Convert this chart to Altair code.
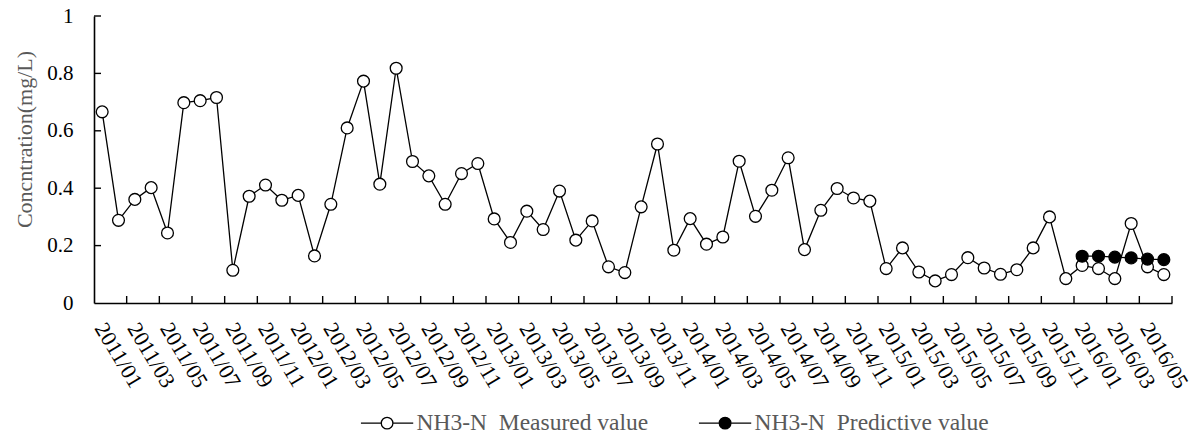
import altair as alt
import pandas as pd

# ---- data ----
tick_labels = [
    "2011/01", "2011/03", "2011/05", "2011/07", "2011/09", "2011/11",
    "2012/01", "2012/03", "2012/05", "2012/07", "2012/09", "2012/11",
    "2013/01", "2013/03", "2013/05", "2013/07", "2013/09", "2013/11",
    "2014/01", "2014/03", "2014/05", "2014/07", "2014/09", "2014/11",
    "2015/01", "2015/03", "2015/05", "2015/07", "2015/09", "2015/11",
    "2016/01", "2016/03", "2016/05",
]

measured = [
    0.666, 0.288, 0.361, 0.402, 0.244, 0.698, 0.705, 0.716, 0.114, 0.372,
    0.411, 0.358, 0.375, 0.164, 0.344, 0.610, 0.773, 0.414, 0.818, 0.493,
    0.443, 0.344, 0.451, 0.486, 0.293, 0.211, 0.320, 0.256, 0.390, 0.219,
    0.286, 0.126, 0.106, 0.335, 0.554, 0.184, 0.294, 0.205, 0.230, 0.494,
    0.302, 0.393, 0.506, 0.186, 0.323, 0.399, 0.366, 0.355, 0.120, 0.192,
    0.108, 0.077, 0.099, 0.158, 0.122, 0.100, 0.116, 0.192, 0.300, 0.085,
    0.131, 0.120, 0.085, 0.277, 0.126, 0.099,
]

predicted = [0.163, 0.163, 0.160, 0.157, 0.153, 0.151]
pred_start = 60  # 2016/01

y_ticks = [0, 0.2, 0.4, 0.6, 0.8, 1.0]

MEAS = "NH3-N\u00a0 Measured value"
PRED = "NH3-N\u00a0 Predictive value"

# ---- tables ----
n = len(measured)
df_meas = pd.DataFrame({"i": list(range(n)), "v": measured, "series": MEAS})
df_pred = pd.DataFrame({"i": list(range(pred_start, pred_start + len(predicted))),
                        "v": predicted, "series": PRED})
# tick-mark positions: category boundaries every two months
df_xt = pd.DataFrame({"i": [k + 1.5 for k in range(0, n, 2)]})
df_yt = pd.DataFrame({"v": y_ticks[1:]})

W, H = 1078, 287
FONT = "Liberation Serif"

xscale = alt.Scale(domain=[-0.5, n - 0.5], nice=False, zero=False)
yscale = alt.Scale(domain=[0, 1], nice=False)

label_js = "[" + ",".join("'%s'" % s for s in tick_labels) + "][datum.value / 2]"

x_axis = alt.Axis(
    values=list(range(0, n, 2)), labelExpr=label_js, ticks=False, grid=False,
    domainColor="black", domainWidth=1.6, labelAngle=59, labelAlign="left",
    labelBaseline="top", labelPadding=16, labelOffset=6, labelFont=FONT,
    labelFontSize=22, labelColor="black", labelOverlap=False, labelFlush=False,
    labelBound=False, title=None,
)
y_axis = alt.Axis(
    values=y_ticks, format="~g", ticks=False, grid=False, domainColor="black",
    domainWidth=1.6, labelPadding=21, labelFont=FONT, labelFontSize=21,
    labelColor="black", title="Concntration(mg/L)", titleColor="#595959",
    titleFont=FONT, titleFontSize=22, titleFontWeight="normal", titleX=-70,
    titleY=123, titleAngle=-90, titleAlign="center", titleBaseline="middle",
)

X = alt.X("i:Q", scale=xscale, axis=x_axis)
Y = alt.Y("v:Q", scale=yscale, axis=y_axis)

sym_path = "M-1,0L2.5,0M4.5,0L8,0M4.5,0A1,1,0,1,1,2.5,0A1,1,0,1,1,4.5,0Z"

legend = alt.Legend(
    orient="none", legendX=261, legendY=395, direction="horizontal", columns=2,
    columnPadding=44, title=None, symbolType=sym_path, symbolSize=135,
    symbolStrokeColor="black", symbolStrokeWidth=1.3, labelFont=FONT,
    labelFontSize=23.5, labelColor="#595959", labelOffset=38, labelLimit=400,
    padding=0, symbolOffset=0,
)
fill_scale = alt.Scale(domain=[MEAS, PRED], range=["white", "black"])
FILL = alt.Fill("series:N", scale=fill_scale, legend=legend)

meas_line = alt.Chart(df_meas).mark_line(color="black", strokeWidth=1.3).encode(x=X, y=Y)
meas_pts = alt.Chart(df_meas).mark_point(
    shape="circle", filled=True, size=140, stroke="black", strokeWidth=1.3, opacity=1
).encode(x=X, y=Y, fill=FILL)
pred_line = alt.Chart(df_pred).mark_line(color="black", strokeWidth=1.3).encode(x=X, y=Y)
pred_pts = alt.Chart(df_pred).mark_point(
    shape="circle", filled=True, size=140, stroke="black", strokeWidth=1.3, opacity=1
).encode(x=X, y=Y, fill=FILL)
xticks = alt.Chart(df_xt).mark_rule(color="black", strokeWidth=1.4).encode(
    x=X, y=alt.value(H), y2=alt.value(H - 7),
)
yticks = alt.Chart(df_yt).mark_rule(color="black", strokeWidth=1.4).encode(
    y=Y, x=alt.value(0), x2=alt.value(7),
)

chart = alt.layer(meas_line, meas_pts, pred_line, pred_pts, xticks, yticks).properties(
    width=W, height=H,
    autosize=alt.AutoSizeParams(type="none"),
    padding={"left": 94, "top": 16, "right": 27, "bottom": 133},
    background="white",
).configure_view(stroke=None)

chart.save("out.html", embed_options={"renderer": "svg", "actions": False})
